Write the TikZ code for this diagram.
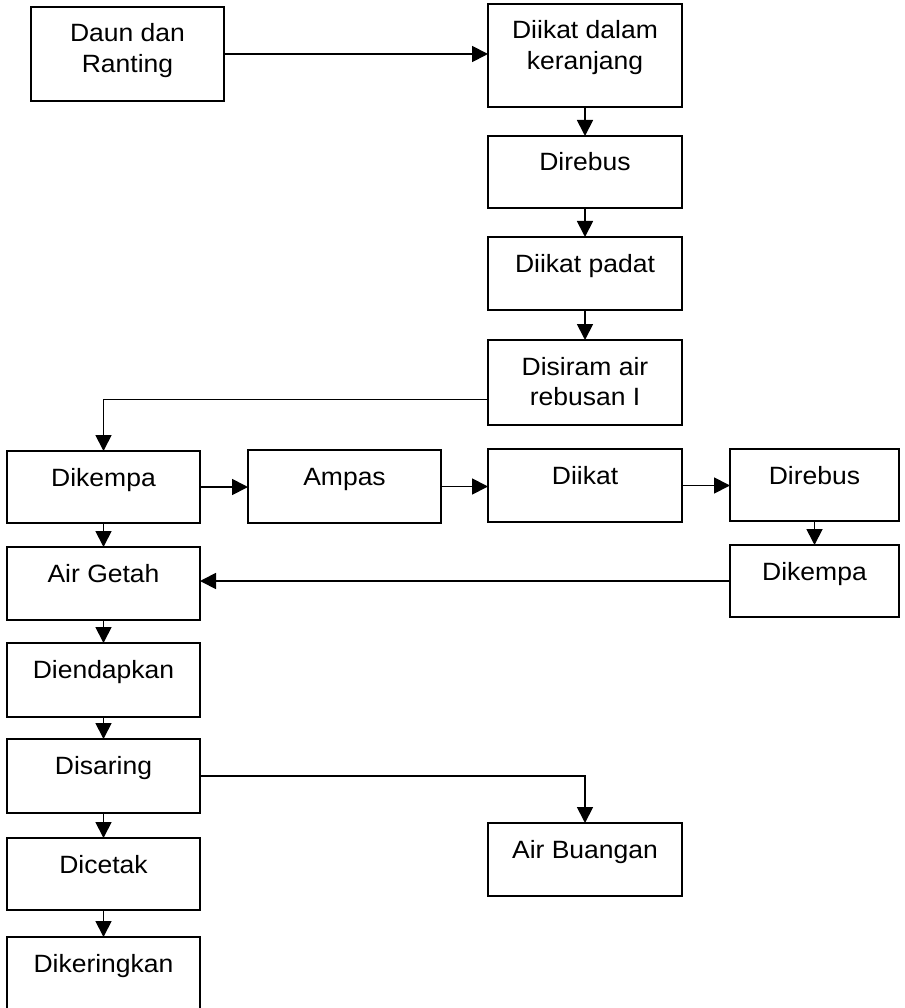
\documentclass[tikz,border=0pt]{standalone}
\usepackage{fontspec}
\setmainfont{Liberation Sans}[FakeStretch=1.06]
\usetikzlibrary{arrows.meta}
\newcommand{\bx}[3]{\parbox[c][#2][t]{#1}{\centering\rule{0pt}{35pt}#3}}
\begin{document}
\begin{tikzpicture}[x=1pt,y=-1pt,
  box/.style={draw, line width=1.9pt, inner sep=0pt, outer sep=0pt, anchor=north west,
    font=\fontsize{25}{30.5}\selectfont},
  arr/.style={line width=1.8pt, -{Triangle[length=16pt,width=16pt]}}]
\useasboundingbox (0,0) rectangle (904,1008);
\fill[white] (0,0) rectangle (904,1008);
\clip (0,0) rectangle (904,1008);
% right/top column
\node[box] (daun)   at (31,7)    {\bx{193pt}{94pt}{Daun dan\\Ranting}};
\node[box] (ikat1)  at (488,4)   {\bx{194pt}{103pt}{Diikat dalam\\keranjang}};
\node[box] (rebus1) at (488,136) {\bx{194pt}{72pt}{Direbus}};
\node[box] (padat)  at (488,237) {\bx{194pt}{73pt}{Diikat padat}};
\node[box] (siram)  at (488,340) {\bx{194pt}{85pt}{Disiram air\\rebusan I}};
% middle row
\node[box] (kempa1) at (7,451)   {\bx{193pt}{72pt}{Dikempa}};
\node[box] (ampas)  at (248,450) {\bx{193pt}{73pt}{Ampas}};
\node[box] (ikat2)  at (488,449) {\bx{194pt}{73pt}{Diikat}};
\node[box] (rebus2) at (730,449) {\bx{169pt}{72pt}{Direbus}};
\node[box] (kempa2) at (730,545) {\bx{169pt}{72pt}{Dikempa}};
% left column
\node[box] (getah)  at (7,547)   {\bx{193pt}{73pt}{Air Getah}};
\node[box] (endap)  at (7,643)   {\bx{193pt}{74pt}{Diendapkan}};
\node[box] (saring) at (7,739)   {\bx{193pt}{74pt}{Disaring}};
\node[box] (cetak)  at (7,838)   {\bx{193pt}{72pt}{Dicetak}};
\node[box] (kering) at (7,937)   {\bx{193pt}{80pt}{Dikeringkan}};
\node[box] (buang)  at (488,823) {\bx{194pt}{73pt}{Air Buangan}};
% connectors
\draw[arr] (daun.east) -- (daun.east -| ikat1.west);
\draw[arr] (ikat1.south) -- (rebus1.north);
\draw[arr] (rebus1.south) -- (padat.north);
\draw[arr] (padat.south) -- (siram.north);
\draw[arr] ([yshift=-17pt]siram.west) -| (kempa1.north);
\draw[arr] (kempa1.east) -- (kempa1.east -| ampas.west);
\draw[arr] (ampas.east) -- (ampas.east -| ikat2.west);
\draw[arr] (ikat2.east) -- (ikat2.east -| rebus2.west);
\draw[arr] (rebus2.south) -- (kempa2.north);
\draw[arr] (kempa2.west) -- (kempa2.west -| getah.east);
\draw[arr] (kempa1.south) -- (getah.north);
\draw[arr] (getah.south) -- (endap.north);
\draw[arr] (endap.south) -- (saring.north);
\draw[arr] (saring.south) -- (cetak.north);
\draw[arr] (cetak.south) -- (kering.north);
\draw[arr] (saring.east) -| (buang.north);
\end{tikzpicture}
\end{document}
